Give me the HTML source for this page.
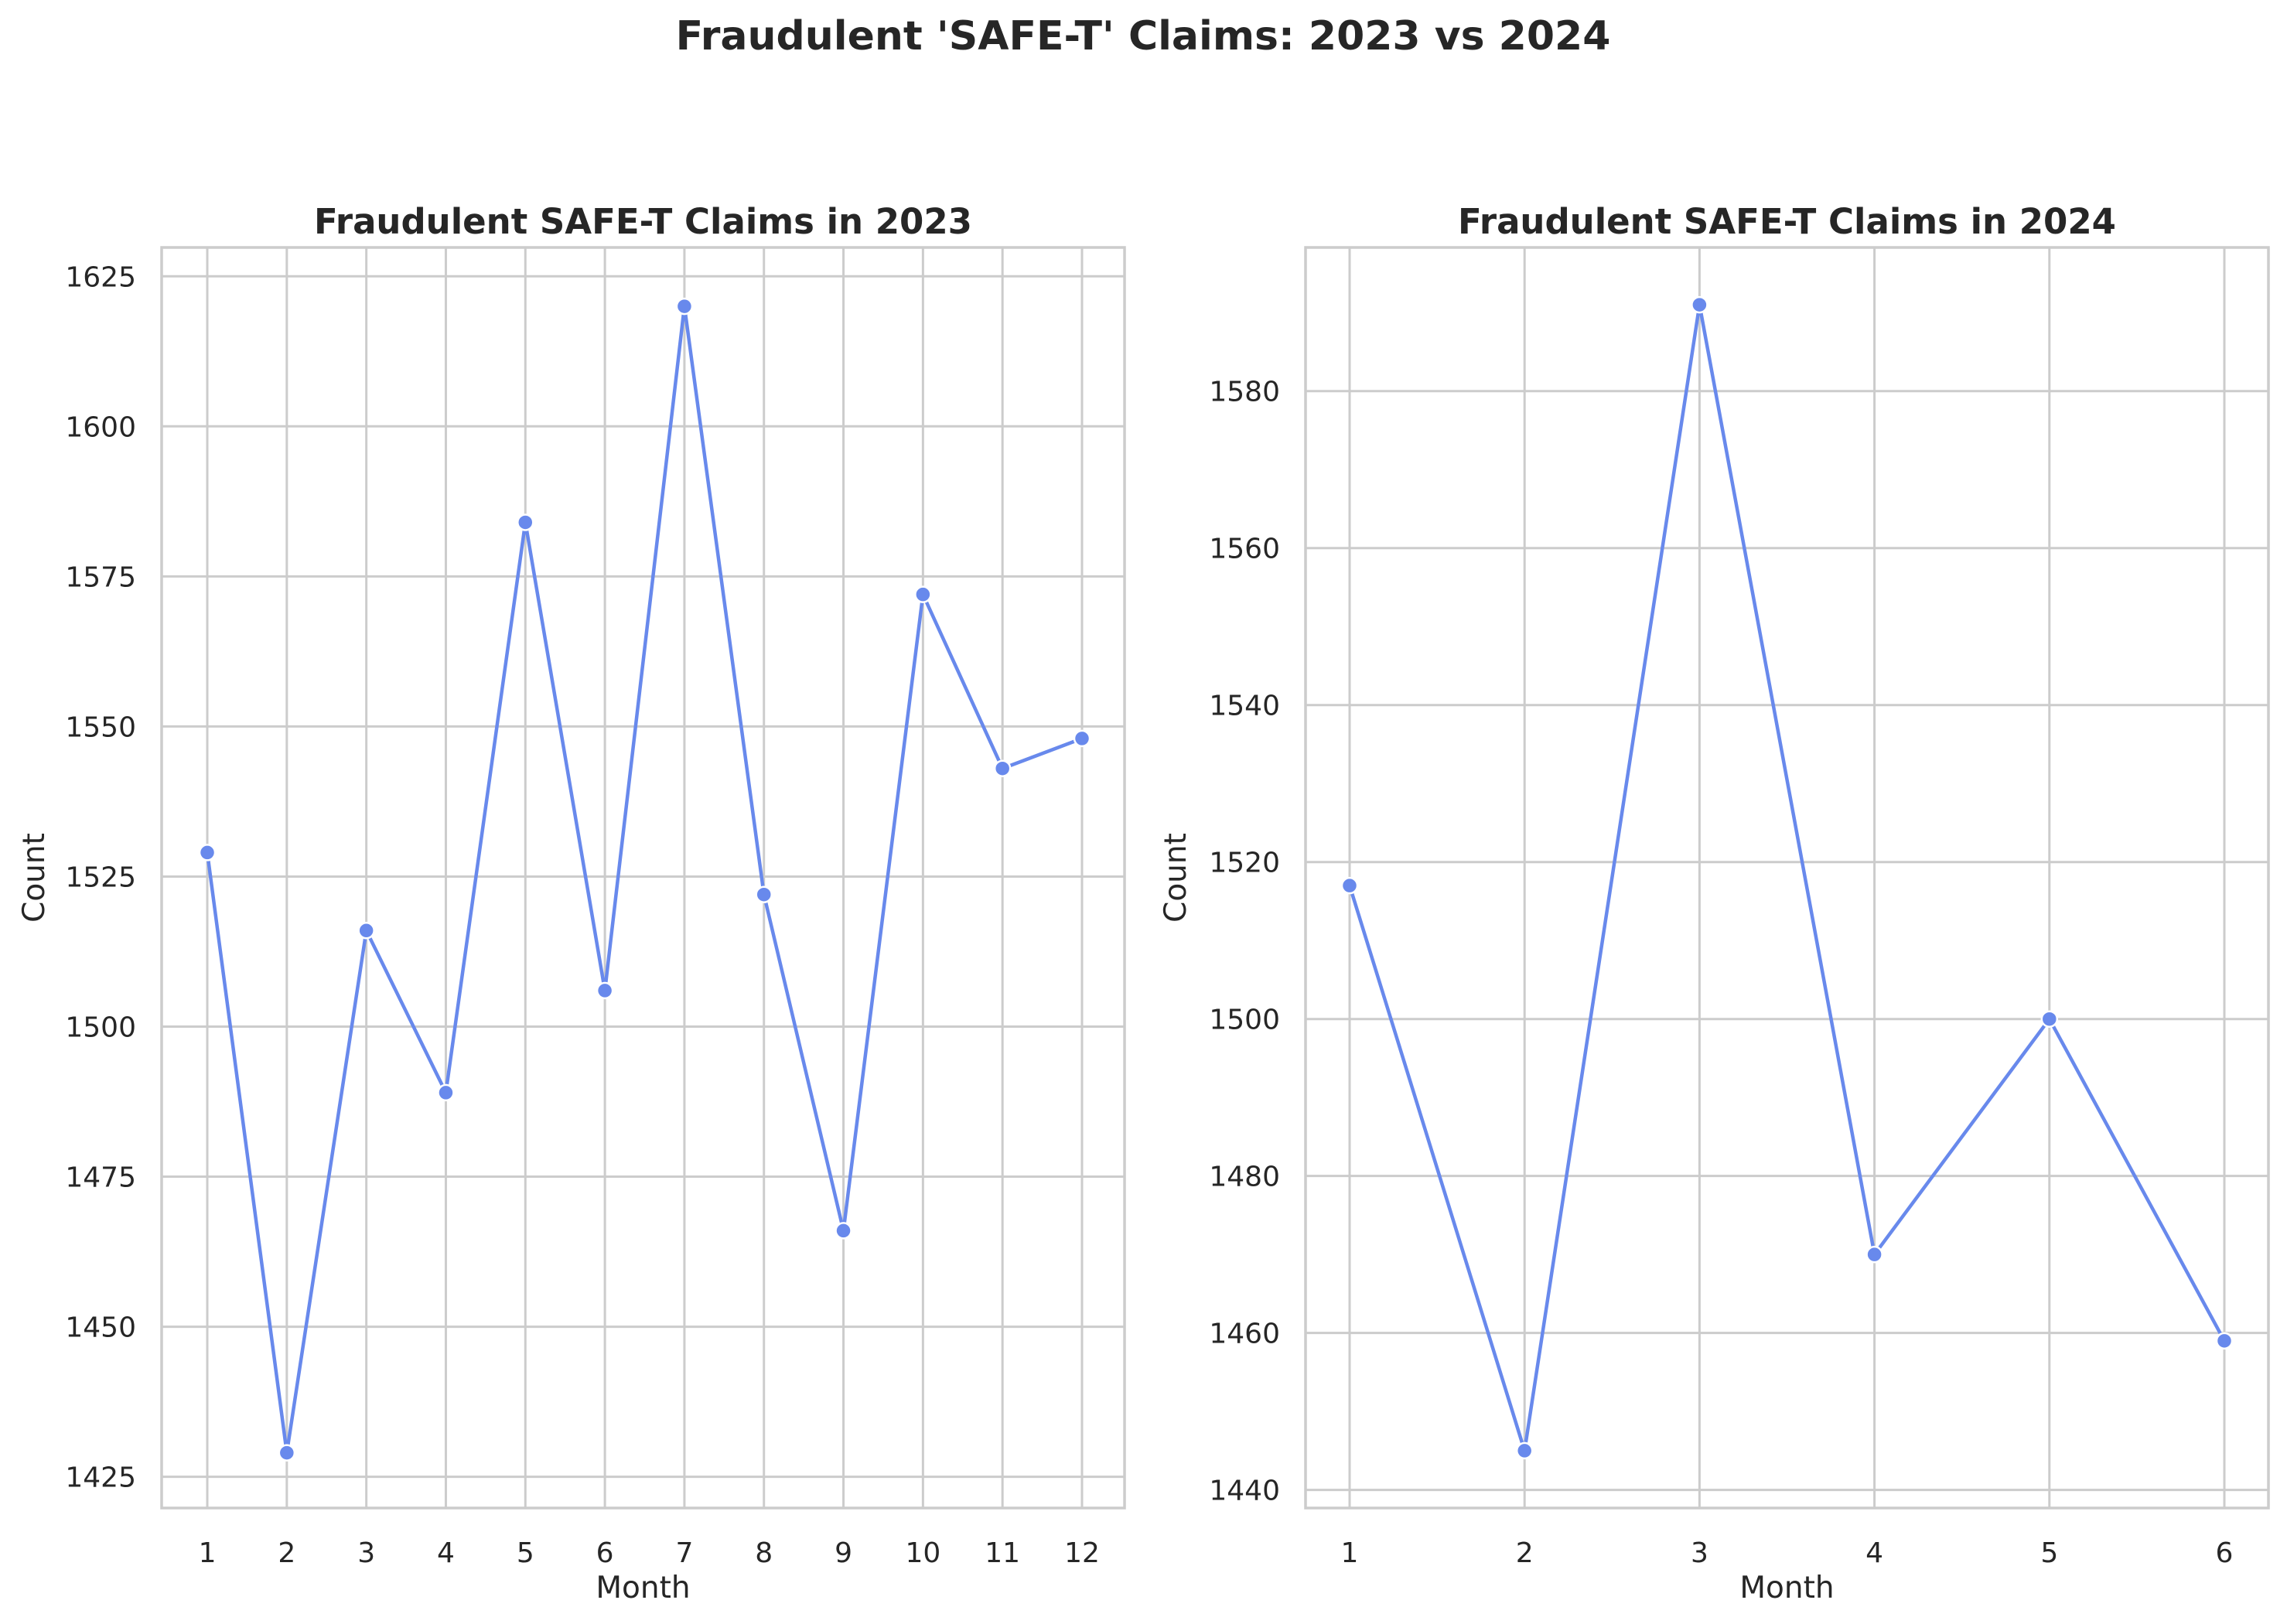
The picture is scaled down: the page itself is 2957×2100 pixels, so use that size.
<!DOCTYPE html>
<html><head><meta charset="utf-8"><style>
body{margin:0;background:#fff}
svg{display:block;font-family:"DejaVu Sans","Liberation Sans",sans-serif}
</style></head><body>
<svg id="chart" width="2957" height="2100" viewBox="0 0 2957 2100" xmlns="http://www.w3.org/2000/svg">
<rect width="2957" height="2100" fill="#fff"/>
<text x="1478" y="64" text-anchor="middle" font-size="52" font-weight="bold" fill="#262626">Fraudulent 'SAFE-T' Claims: 2023 vs 2024</text>
<g id="p1"></g>
<g id="p2"></g>
</svg>
<script>
const months2023 = [1,2,3,4,5,6,7,8,9,10,11,12];
const counts2023 = [1529,1429,1516,1489,1584,1506,1620,1522,1466,1572,1543,1548];
const yTicks2023 = [1425,1450,1475,1500,1525,1550,1575,1600,1625];
const months2024 = [1,2,3,4,5,6];
const counts2024 = [1517,1445,1591,1470,1500,1459];
const yTicks2024 = [1440,1460,1480,1500,1520,1540,1560,1580];
const NS='http://www.w3.org/2000/svg';
function mk(parent,tag,attrs,text){const e=document.createElementNS(NS,tag);for(const k in attrs)e.setAttribute(k,attrs[k]);if(text!==undefined)e.textContent=text;parent.appendChild(e);return e;}
function draw(g,cfg){
  const {L,R,T,B,xmin,xmax,ymin,ymax,xs,ys,yticks,title,labelX,ytickX}=cfg;
  const sx=v=>L+(v-xmin)/(xmax-xmin)*(R-L);
  const sy=v=>B-(v-ymin)/(ymax-ymin)*(B-T);
  for(const t of yticks){
    const l=mk(g,'line',{x1:L,x2:R,y1:sy(t),y2:sy(t),stroke:'#cccccc','stroke-width':3});
    
    
    const tx=mk(g,'text',{x:ytickX,y:sy(t)+13,'text-anchor':'end','font-size':36,fill:'#262626'},String(t));
    
    
  }
  for(const m of xs){
    const l=mk(g,'line',{x1:sx(m),x2:sx(m),y1:T,y2:B,stroke:'#cccccc','stroke-width':3});
    
    
    const tx=mk(g,'text',{x:sx(m),y:2020,'text-anchor':'middle','font-size':36,fill:'#262626'},String(m));
    
    
  }
  const fr=mk(g,'rect',{x:L,y:T,width:R-L,height:B-T,fill:'none',stroke:'#cccccc','stroke-width':3.5});
  
  
  const pts=xs.map((m,i)=>sx(m)+','+sy(ys[i])).join(' ');
  const pl=mk(g,'polyline',{points:pts,fill:'none',stroke:'#6889ec','stroke-width':4.5,'stroke-linejoin':'round'});
  
  
  xs.forEach((m,i)=>{
    const c=mk(g,'circle',{cx:sx(m),cy:sy(ys[i]),r:10,fill:'#6889ec',stroke:'#fff','stroke-width':2.5});
    
    
  });
  const tt=mk(g,'text',{x:(L+R)/2,y:302,'text-anchor':'middle','font-size':45,'font-weight':'bold',fill:'#262626'},title);
  
  
  const xl=mk(g,'text',{x:(L+R)/2,y:2066,'text-anchor':'middle','font-size':39,fill:'#262626'},'Month');
  
  
  const yl=mk(g,'text',{x:0,y:0,'text-anchor':'middle','font-size':39,fill:'#262626',transform:`translate(${labelX},${(T+B)/2}) rotate(-90)`},'Count');
  
  
}
draw(document.getElementById('p1'),{L:209,R:1454,T:320,B:1950,xmin:0.426,xmax:12.535,ymin:1419.8,ymax:1629.8,xs:months2023,ys:counts2023,yticks:yTicks2023,title:'Fraudulent SAFE-T Claims in 2023',labelX:57,ytickX:176});
draw(document.getElementById('p2'),{L:1688,R:2933,T:320,B:1950,xmin:0.748,xmax:6.252,ymin:1437.7,ymax:1598.3,xs:months2024,ys:counts2024,yticks:yTicks2024,title:'Fraudulent SAFE-T Claims in 2024',labelX:1533,ytickX:1655});
</script>
</body></html>
